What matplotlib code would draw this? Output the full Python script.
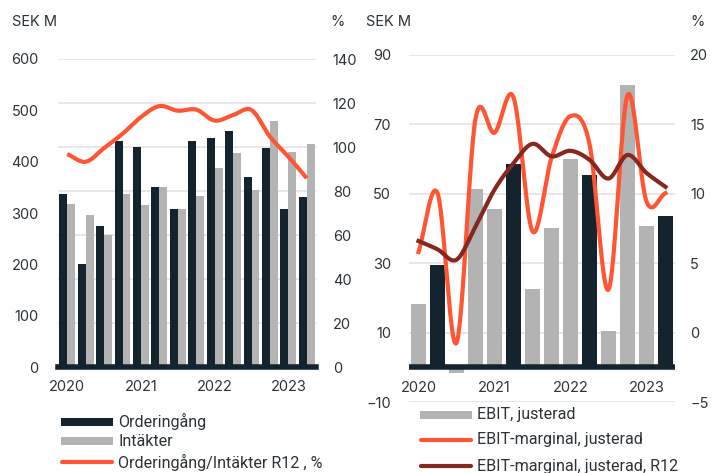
import numpy as np
import matplotlib
matplotlib.use("Agg")
import matplotlib.pyplot as plt
from matplotlib.patches import Rectangle
from matplotlib.lines import Line2D

# ---------------- data ----------------
quarters = ["Q1 2020", "Q2 2020", "Q3 2020", "Q4 2020",
            "Q1 2021", "Q2 2021", "Q3 2021", "Q4 2021",
            "Q1 2022", "Q2 2022", "Q3 2022", "Q4 2022",
            "Q1 2023", "Q2 2023"]
year_labels = ["2020", "2021", "2022", "2023"]
year_positions = [0, 4, 8, 12]

orderingang = [337, 200, 275, 440, 428, 350, 308, 441, 447, 460, 371, 427, 308, 332]
intakter = [317, 297, 258, 337, 315, 351, 308, 334, 388, 416, 344, 480, 418, 434]
order_intakt_r12 = [96.8, 93.3, 99.5, 106, 113.6, 118.6, 116.5, 117, 112, 114.5, 116.8, 104.7, 95.6, 85.8]

ebit_justerad = [18.2, 29.5, -1.7, 51.4, 45.5, 58.6, 22.7, 40.0, 59.9, 55.4, 10.5, 81.4, 40.7, 43.6]
ebit_marginal = [5.8, 10.05, -0.74, 15.4, 14.4, 16.95, 7.3, 12.6, 15.6, 13.6, 3.1, 17.1, 9.45, 10.05]
ebit_marginal_r12 = [6.6, 6.0, 5.25, 7.65, 10.3, 12.2, 13.6, 12.7, 13.1, 12.45, 11.1, 12.8, 11.5, 10.5]

left_ticks = [0, 100, 200, 300, 400, 500, 600]
left_right_ticks = [0, 20, 40, 60, 80, 100, 120, 140]
right_ticks = [-10, 10, 30, 50, 70, 90]
right_right_ticks = [-5, 0, 5, 10, 15, 20]

# ---------------- style ----------------
DARK = "#13242e"
GREY = "#b3b3b3"
ORANGE = "#ff5533"
DRED = "#86281f"
TXT = "#2b3338"
GRID = "#e3e3e3"

plt.rcParams['font.family'] = ['Inter', 'DejaVu Sans']
LEG_FONT = ['Liberation Sans Narrow', 'Roboto', 'DejaVu Sans']

W, H = 723, 473
fig = plt.figure(figsize=(W / 100, H / 100), dpi=100)


def fx(px):
    return px / W


def fy(py):
    return 1 - py / H


def smooth(xs, ys, n=30):
    """Catmull-Rom style smoothing through the given points (for drawing)."""
    xs = np.asarray(xs, float)
    ys = np.asarray(ys, float)
    P = np.column_stack([xs, ys])
    P = np.vstack([2 * P[0] - P[1], P, 2 * P[-1] - P[-2]])
    out = []
    for i in range(1, len(P) - 2):
        p0, p1, p2, p3 = P[i - 1], P[i], P[i + 1], P[i + 2]
        t = np.linspace(0, 1, n, endpoint=False)[:, None]
        pts = 0.5 * ((2 * p1) + (-p0 + p2) * t + (2 * p0 - 5 * p1 + 4 * p2 - p3) * t ** 2
                     + (-p0 + 3 * p1 - 3 * p2 + p3) * t ** 3)
        out.append(pts)
    out.append(P[-2][None, :])
    out = np.vstack(out)
    return out[:, 0], out[:, 1]


x = np.arange(len(quarters))

# ================= LEFT CHART =================
axL = fig.add_axes([fx(58), fy(367), fx(316) - fx(58), fy(59) - fy(367)])
axL2 = axL.twinx()
axL.set_zorder(axL2.get_zorder() + 1)
axL.patch.set_visible(False)

bw = 0.43
axL.bar(x - bw / 2, orderingang, width=bw, color=DARK, zorder=3)
axL.bar(x + bw / 2, intakter, width=bw, color=GREY, zorder=3)
axL.set_ylim(0, 600)
axL.set_xlim(-0.5, 13.5)
axL.set_yticks(left_ticks)
axL.set_xticks(year_positions)
axL.set_xticklabels(year_labels)

axL2.set_ylim(0, 140)
axL2.set_yticks(left_right_ticks)
axL2.grid(axis='y', color=GRID, linewidth=1.2)
axL2.set_axisbelow(True)

sx, sy = smooth(x, order_intakt_r12)
axL.plot(sx, np.array(sy) * 600 / 140, color=ORANGE, lw=3.0, zorder=5,
         solid_capstyle='butt')

axL.axhline(0, color=DARK, lw=4, zorder=6, clip_on=False)

for a in (axL, axL2):
    for s in a.spines.values():
        s.set_visible(False)
    a.tick_params(length=0, labelsize=10.5, colors=TXT)
axL.tick_params(axis='y', pad=14)
axL2.tick_params(axis='y', pad=12)
axL.tick_params(axis='x', pad=9)

fig.text(fx(12), fy(22), "SEK M", fontsize=10.5, color=TXT, va='center', ha='left')
fig.text(fx(330), fy(22), "%", fontsize=10.5, color=TXT, va='center', ha='left')

# ================= RIGHT CHART =================
axR = fig.add_axes([fx(409), fy(402), fx(675) - fx(409), fy(55) - fy(402)])
axR2 = axR.twinx()
axR.set_zorder(axR2.get_zorder() + 1)
axR.patch.set_visible(False)

bar_colors = [DARK if q.startswith("Q2") else GREY for q in quarters]
axR.bar(x, ebit_justerad, width=0.8, color=bar_colors, zorder=3)
axR.set_ylim(-10, 90)
axR.set_xlim(-0.5, 13.5)
axR.set_yticks(right_ticks)
axR.set_xticks([])
axR.grid(axis='y', color=GRID, linewidth=1.2)
axR.set_axisbelow(True)

axR2.set_ylim(-5, 20)
axR2.set_yticks(right_right_ticks)


def to_left(v):
    return np.asarray(v) * 4 + 10


sx, sy = smooth(x, ebit_marginal)
axR.plot(sx, to_left(sy), color=ORANGE, lw=3.0, zorder=5)
sx, sy = smooth(x, ebit_marginal_r12)
axR.plot(sx, to_left(sy), color=DRED, lw=3.0, zorder=6)

axR.axhline(0, color=DARK, lw=4, zorder=7)

for yp, lab in zip(year_positions, year_labels):
    axR.annotate(lab, xy=(yp, 0), xytext=(0, -15), textcoords='offset points',
                 ha='center', va='center', fontsize=10.5, color=TXT)

for a in (axR, axR2):
    for s in a.spines.values():
        s.set_visible(False)
    a.tick_params(length=0, labelsize=10.5, colors=TXT)
axR.tick_params(axis='y', pad=13)
axR2.tick_params(axis='y', pad=11)

fig.text(fx(366), fy(22), "SEK M", fontsize=10.5, color=TXT, va='center', ha='left')
fig.text(fx(690), fy(22), "%", fontsize=10.5, color=TXT, va='center', ha='left')

# ================= LEGENDS =================
def leg_patch(x0, x1, yc, h, color):
    fig.add_artist(Rectangle((fx(x0), fy(yc + h / 2)), fx(x1) - fx(x0), fy(yc - h / 2) - fy(yc + h / 2),
                             transform=fig.transFigure, color=color, lw=0))


def leg_line(x0, x1, yc, color):
    fig.add_artist(Line2D([fx(x0), fx(x1)], [fy(yc), fy(yc)], transform=fig.transFigure,
                          color=color, lw=3.0, solid_capstyle='round'))


def leg_text(xp, yp, s):
    fig.text(fx(xp), fy(yp), s, fontsize=11.6, color=TXT, va='center', ha='left', family=LEG_FONT)


leg_patch(61, 113, 421.7, 8, DARK)
leg_text(118, 421, "Orderingång")
leg_patch(61, 113, 441, 8, GREY)
leg_text(118, 441, "Intäkter")
leg_line(62, 112, 462, ORANGE)
leg_text(118, 462, "Orderingång/Intäkter R12 , %")

leg_patch(420, 472, 415, 8, GREY)
leg_text(477, 414, "EBIT, justerad")
leg_line(421, 471, 440, ORANGE)
leg_text(477, 439, "EBIT-marginal, justerad")
leg_line(421, 471, 466, DRED)
leg_text(477, 466, "EBIT-marginal, justerad, R12")

fig.savefig("out.png", dpi=100)
